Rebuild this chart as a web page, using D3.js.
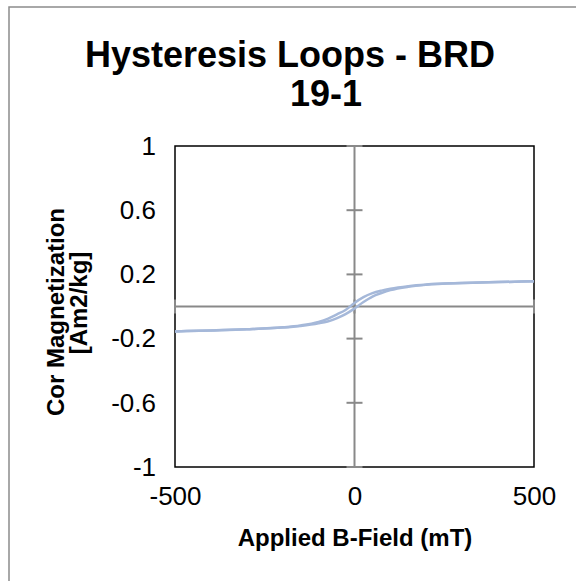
<!DOCTYPE html>
<html>
<head>
<meta charset="utf-8">
<script src="https://cdn.jsdelivr.net/npm/d3@7"></script>
<style>
  body { margin: 0; background: #fff; }
  text { font-family: "Liberation Sans", Arial, sans-serif; }
</style>
</head>
<body>
<div id="vis"></div>
<script>
// frame and plot area
const FRAME_WIDTH = 576;
const FRAME_HEIGHT = 581;
const PLOT = {left: 175, right: 534, top: 146, bottom: 467};

// data
const FIELD = [-500, -400, -300, -200, -150, -100, -75, -50, -25, 0, 25, 50, 75, 100, 150, 200, 300, 400, 500];
// branch swept from +500 down to -500 (listed here by field)
const UPPER_M = [-0.155, -0.149, -0.142, -0.130, -0.118, -0.096, -0.077, -0.050, -0.022, 0.022, 0.058, 0.083, 0.099, 0.111, 0.127, 0.137, 0.146, 0.152, 0.157];
// branch swept from -500 up to +500
const LOWER_M = [-0.155, -0.149, -0.142, -0.131, -0.121, -0.105, -0.093, -0.074, -0.048, -0.012, 0.028, 0.062, 0.084, 0.102, 0.123, 0.135, 0.146, 0.152, 0.157];

const X_TICKS = [-500, 0, 500];
const Y_TICKS = [-1, -0.6, -0.2, 0.2, 0.6, 1];
const TITLE_LINES = ["Hysteresis Loops - BRD", "19-1"];
const Y_TITLE_LINES = ["Cor Magnetization", "[Am2/kg]"];
const X_TITLE = "Applied B-Field (mT)";

const svg = d3.select("#vis")
  .append("svg")
    .attr("width", FRAME_WIDTH)
    .attr("height", FRAME_HEIGHT);

// outer chart border (only top and left show in the frame)
svg.append("rect")
  .attr("x", 9).attr("y", 7)
  .attr("width", 700).attr("height", 700)
  .attr("fill", "none")
  .attr("stroke", "#8c8c8c")
  .attr("stroke-width", 1.5);

const X = d3.scaleLinear().domain([-500, 500]).range([PLOT.left, PLOT.right]);
const Y = d3.scaleLinear().domain([-1, 1]).range([PLOT.bottom, PLOT.top]);

// plain hyphen labels like the original
const fmt = (d) => String(+(+d).toFixed(1));

// title
svg.append("text")
  .attr("x", 290).attr("y", 67)
  .attr("text-anchor", "middle")
  .attr("font-size", "36px").attr("font-weight", "bold")
  .text(TITLE_LINES[0]);
svg.append("text")
  .attr("x", 326).attr("y", 106)
  .attr("text-anchor", "middle")
  .attr("font-size", "36px").attr("font-weight", "bold")
  .text(TITLE_LINES[1]);

// plot border
svg.append("rect")
  .attr("x", PLOT.left).attr("y", PLOT.top)
  .attr("width", PLOT.right - PLOT.left)
  .attr("height", PLOT.bottom - PLOT.top)
  .attr("fill", "none")
  .attr("stroke", "#000")
  .attr("stroke-width", 1.5);

// zero axes
svg.append("line")
  .attr("x1", X(0)).attr("x2", X(0))
  .attr("y1", PLOT.top).attr("y2", PLOT.bottom)
  .attr("stroke", "#898989").attr("stroke-width", 2);
svg.append("line")
  .attr("x1", PLOT.left).attr("x2", PLOT.right)
  .attr("y1", Y(0)).attr("y2", Y(0))
  .attr("stroke", "#898989").attr("stroke-width", 2);

// crossing tick marks
svg.selectAll(".ytick")
  .data(Y_TICKS)
  .enter()
  .append("line")
    .attr("class", "ytick")
    .attr("x1", X(0) - 8).attr("x2", X(0) + 8)
    .attr("y1", (d) => Y(d)).attr("y2", (d) => Y(d))
    .attr("stroke", "#898989").attr("stroke-width", 2);
svg.selectAll(".xtick")
  .data(X_TICKS)
  .enter()
  .append("line")
    .attr("class", "xtick")
    .attr("x1", (d) => X(d)).attr("x2", (d) => X(d))
    .attr("y1", Y(0) - 7).attr("y2", Y(0) + 7)
    .attr("stroke", "#898989").attr("stroke-width", 2);

// tick labels via axes
const yAxis = svg.append("g")
  .attr("transform", "translate(" + (PLOT.left - 10) + ",0)")
  .call(d3.axisLeft(Y).tickValues(Y_TICKS).tickSize(0).tickPadding(9).tickFormat(fmt));
yAxis.select(".domain").remove();
yAxis.selectAll("text")
  .attr("font-size", "26px").attr("fill", "#000")
  .attr("font-family", "Liberation Sans, Arial, sans-serif");

const xAxis = svg.append("g")
  .attr("transform", "translate(0," + PLOT.bottom + ")")
  .call(d3.axisBottom(X).tickValues(X_TICKS).tickSize(0).tickPadding(20).tickFormat(fmt));
xAxis.select(".domain").remove();
xAxis.selectAll("text")
  .attr("font-size", "26px").attr("fill", "#000")
  .attr("font-family", "Liberation Sans, Arial, sans-serif");

// axis titles
svg.append("text")
  .attr("x", 355).attr("y", 546)
  .attr("text-anchor", "middle")
  .attr("font-size", "24px").attr("font-weight", "bold")
  .text(X_TITLE);
svg.append("text")
  .attr("transform", "translate(64,312) rotate(-90)")
  .attr("text-anchor", "middle")
  .attr("font-size", "24px").attr("font-weight", "bold")
  .text(Y_TITLE_LINES[0]);
svg.append("text")
  .attr("transform", "translate(87,303) rotate(-90)")
  .attr("text-anchor", "middle")
  .attr("font-size", "24px").attr("font-weight", "bold")
  .text(Y_TITLE_LINES[1]);

// hysteresis branches
const line = d3.line()
  .x((d) => X(d[0]))
  .y((d) => Y(d[1]))
  .curve(d3.curveMonotoneX);

[UPPER_M, LOWER_M].forEach((series) => {
  svg.append("path")
    .datum(FIELD.map((b, i) => [b, series[i]]))
    .attr("fill", "none")
    .attr("stroke", "#a5b8d9")
    .attr("stroke-width", 2.5)
    .attr("d", line);
});
</script>
</body>
</html>
